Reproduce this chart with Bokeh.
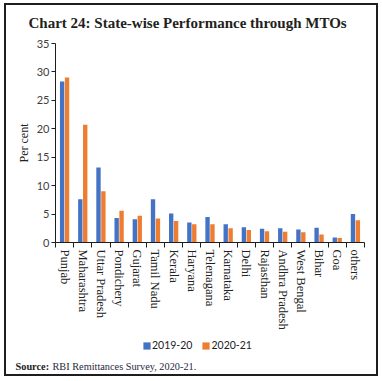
import numpy as np
from bokeh.plotting import figure
from bokeh.layouts import column, row
from bokeh.models import (Range1d, FixedTicker, Label, Legend, LegendItem, Spacer)
from bokeh.embed import file_html
from bokeh.resources import INLINE

states = ["Punjab", "Maharashtra", "Uttar Pradesh", "Pondichery", "Gujarat",
          "Tamil Nadu", "Kerala", "Haryana", "Telenagana", "Karnataka", "Delhi",
          "Rajasthan", "Andhra Pradesh", "West Bengal", "Bihar", "Goa", "others"]
fy2019_20 = [28.3, 7.6, 13.2, 4.3, 4.1, 7.6, 5.1, 3.5, 4.5, 3.2, 2.7,
             2.4, 2.5, 2.3, 2.6, 0.9, 5.0]
fy2020_21 = [29.0, 20.7, 9.0, 5.6, 4.7, 4.2, 3.8, 3.2, 3.2, 2.5, 2.2,
             2.0, 1.9, 1.8, 1.4, 0.8, 3.9]
y_ticks = [0, 5, 10, 15, 20, 25, 30, 35]
series_names = ["2019-20", "2020-21"]
title_text = "Chart 24: State-wise Performance through MTOs"
source_head = "Source:"
source_text = "RBI Remittances Survey, 2020-21."

BLUE = "#4472C4"
ORANGE = "#ED7D31"
EDGE = "#1e1e1e"
SERIF = "Liberation Serif"
SANS = "Lato"
CW = 370
LINE = 2
TOP_H, MAIN_H, BOT_H, OVERLAP = 30, 300, 65, 26
NOFLEX = {"flex": "none"}


def blank(w, h):
    f = figure(width=w, height=h, x_range=Range1d(0, 1), y_range=Range1d(0, 1),
               output_backend="svg", toolbar_location=None,
               x_axis_type=None, y_axis_type=None, min_border=0)
    f.frame_align = False
    f.styles = NOFLEX
    f.outline_line_color = None
    f.xgrid.grid_line_color = None
    f.ygrid.grid_line_color = None
    f.background_fill_alpha = 0
    f.border_fill_alpha = 0
    return f


def bar(w, h):
    return Spacer(width=w, height=h, styles={"background-color": EDGE, "flex": "none"})


top = blank(CW, TOP_H)
top.add_layout(Label(x=22, y=13, x_units="screen", y_units="screen",
                     text=title_text, text_font=SERIF, text_font_size="15px",
                     text_font_style="bold", text_color="#231f20",
                     text_baseline="alphabetic"))

n = len(states)
centers = np.arange(n) + 0.5
off = 0.135

p = figure(width=CW, height=MAIN_H, x_range=Range1d(0, n), y_range=Range1d(0, 35),
           output_backend="svg", toolbar_location=None,
           min_border_left=49, min_border_right=12, min_border_top=8,
           min_border_bottom=93)
p.styles = NOFLEX
p.outline_line_color = None
p.xgrid.grid_line_color = None
p.ygrid.grid_line_color = None
p.border_fill_alpha = 0

r1 = p.vbar(x=centers - off, top=fy2019_20, width=0.24, fill_color=BLUE, line_color=None)
r2 = p.vbar(x=centers + off, top=fy2020_21, width=0.24, fill_color=ORANGE, line_color=None)

ya = p.yaxis[0]
ya.ticker = FixedTicker(ticks=y_ticks)
ya.minor_tick_line_color = None
ya.major_tick_out = 4
ya.major_tick_in = 0
ya.major_label_standoff = 2
ya.major_label_text_font = SANS
ya.major_label_text_font_size = "11px"
ya.major_label_text_color = "#404040"
ya.axis_line_color = EDGE
ya.major_tick_line_color = EDGE
ya.axis_label = "Per cent"
ya.axis_label_text_font = SERIF
ya.axis_label_text_font_size = "12px"
ya.axis_label_text_font_style = "normal"
ya.axis_label_text_color = "#222222"
ya.axis_label_standoff = 3

xa = p.xaxis[0]
xa.ticker = FixedTicker(ticks=list(centers), minor_ticks=list(np.arange(n + 1)))
xa.major_label_overrides = {float(c): s for c, s in zip(centers, states)}
xa.major_tick_line_color = None
xa.minor_tick_line_color = EDGE
xa.minor_tick_out = 5
xa.minor_tick_in = 0
xa.axis_line_color = EDGE
xa.major_label_orientation = "vertical"
xa.major_label_standoff = 1
xa.major_label_text_font = SERIF
xa.major_label_text_font_size = "12.5px"
xa.major_label_text_color = "#222222"

bot = blank(CW, BOT_H)
bot.styles = {"flex": "none", "margin-top": f"-{OVERLAP}px"}
b1 = bot.vbar(x=[0.5], top=[0], bottom=[0], width=0.01, fill_color=BLUE, line_color=None)
b2 = bot.vbar(x=[0.5], top=[0], bottom=[0], width=0.01, fill_color=ORANGE, line_color=None)
legend = Legend(items=[LegendItem(label=series_names[0], renderers=[b1]),
                       LegendItem(label=series_names[1], renderers=[b2])],
                orientation="horizontal", location=(136, 23),
                glyph_width=9, glyph_height=9, label_height=12,
                label_text_font=SANS, label_text_font_size="10.5px",
                label_text_color="#222222", label_standoff=1, spacing=9,
                padding=0, margin=0, border_line_color=None,
                background_fill_alpha=0)
bot.add_layout(legend, "center")
bot.add_layout(Label(x=9, y=8, x_units="screen", y_units="screen",
                     text=source_head, text_font=SERIF, text_font_size="10.3px",
                     text_font_style="bold", text_color="#222222",
                     text_baseline="alphabetic"))
bot.add_layout(Label(x=46, y=8, x_units="screen", y_units="screen",
                     text=source_text, text_font=SERIF,
                     text_font_size="10.3px", text_color="#1f2a40",
                     text_baseline="alphabetic"))

content = column(top, p, bot, spacing=0, styles=NOFLEX)
H = TOP_H + MAIN_H + BOT_H - OVERLAP
mid = row(bar(LINE, H), content, bar(LINE, H), spacing=0, styles=NOFLEX)
boxed = column(bar(CW + 2 * LINE, LINE), mid, bar(CW + 2 * LINE, LINE), spacing=0,
               styles=NOFLEX)
inner = row(Spacer(width=4, height=10, styles=NOFLEX), boxed, spacing=0, styles=NOFLEX)
page = column(Spacer(width=10, height=3, styles=NOFLEX), inner, spacing=0)

open("out.html", "w").write(file_html(page, INLINE))
